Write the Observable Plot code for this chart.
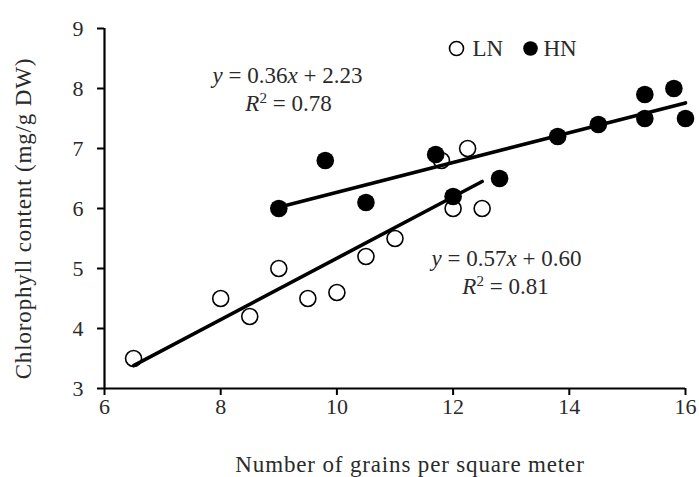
<!DOCTYPE html>
<html>
<head>
<meta charset="utf-8">
<script src="https://cdn.jsdelivr.net/npm/d3@7"></script>
<script src="https://cdn.jsdelivr.net/npm/@observablehq/plot@0.6"></script>
<style>
  html, body { margin: 0; padding: 0; background: #fff; }
  svg text { white-space: pre; }
</style>
</head>
<body>
<div id="chart"></div>
<script>
// LN (open circles)
const lnX = [6.5, 8, 8.5, 9, 9.5, 10, 10.5, 11, 11.8, 12, 12.25, 12.5];
const lnY = [3.5, 4.5, 4.2, 5.0, 4.5, 4.6, 5.2, 5.5, 6.8, 6.0, 7.0, 6.0];
// HN (filled circles)
const hnX = [9, 9.8, 10.5, 11.7, 12, 12.8, 13.8, 14.5, 15.3, 15.3, 15.8, 16];
const hnY = [6.0, 6.8, 6.1, 6.9, 6.2, 6.5, 7.2, 7.4, 7.9, 7.5, 8.0, 7.5];
// fitted lines as drawn (end points)
const lnFitX = [6.5, 12.5];
const lnFitY = [3.38, 6.45];
const hnFitX = [9, 16];
const hnFitY = [6.02, 7.76];
// ticks
const xTicks = [6, 8, 10, 12, 14, 16];
const yTicks = [3, 4, 5, 6, 7, 8, 9];
// texts
const xTitle = "Number of grains per square meter";
const yTitle = "Chlorophyll content (mg/g DW)";
const legendLabels = ["LN", "HN"];
const eqHN = "y = 0.36x + 2.23";
const r2HN = "R2 = 0.78";
const eqLN = "y = 0.57x + 0.60";
const r2LN = "R2 = 0.81";

const ln = lnX.map((x, i) => ({x, y: lnY[i]}));
const hn = hnX.map((x, i) => ({x, y: hnY[i]}));
const lnFit = lnFitX.map((x, i) => ({x, y: lnFitY[i]}));
const hnFit = hnFitX.map((x, i) => ({x, y: hnFitY[i]}));

const textColor = "#2a2a2a";
const serif = "'Liberation Serif', 'Times New Roman', serif";

const plot = Plot.plot({
  width: 699,
  height: 477,
  marginLeft: 104,
  marginRight: 14,
  marginTop: 28,
  marginBottom: 89,
  style: {fontFamily: serif, fontSize: "22px", background: "#fff", color: textColor, overflow: "visible"},
  x: {domain: [6, 16]},
  y: {domain: [3, 9]},
  marks: [
    Plot.axisX({ticks: xTicks, tickFormat: d => String(d), tickSize: 7, tickPadding: 3, strokeWidth: 2, stroke: "#000", fill: textColor, fontSize: 22, label: null}),
    Plot.axisY({ticks: yTicks, tickFormat: d => String(d), tickSize: 7, tickPadding: 14, strokeWidth: 2, stroke: "#000", fill: textColor, fontSize: 22, label: null}),
    Plot.ruleY([3], {stroke: "#000", strokeWidth: 2.2}),
    Plot.ruleX([6], {stroke: "#000", strokeWidth: 2.2}),
    Plot.dot(ln, {x: "x", y: "y", r: 8, fill: "#fff", stroke: "#000", strokeWidth: 1.6}),
    Plot.line(lnFit, {x: "x", y: "y", stroke: "#000", strokeWidth: 3.6}),
    Plot.line(hnFit, {x: "x", y: "y", stroke: "#000", strokeWidth: 3.6}),
    Plot.dot(hn, {x: "x", y: "y", r: 8.8, fill: "#000"}),
    // legend
    Plot.dot([legendLabels[0]], {frameAnchor: "top-left", dx: 352, dy: 20, r: 7, fill: "#fff", stroke: "#000", strokeWidth: 1.6}),
    Plot.text([legendLabels[0]], {frameAnchor: "top-left", dx: 368, dy: 27, text: d => d, textAnchor: "start", lineAnchor: "bottom", fontSize: 23, fill: textColor}),
    Plot.dot([legendLabels[1]], {frameAnchor: "top-left", dx: 426, dy: 20, r: 7.3, fill: "#000"}),
    Plot.text([legendLabels[1]], {frameAnchor: "top-left", dx: 439, dy: 27, text: d => d, textAnchor: "start", lineAnchor: "bottom", fontSize: 23, fill: textColor}),
    // equations
    Plot.text([eqHN], {frameAnchor: "top-left", dx: 183, dy: 54, text: d => d, textAnchor: "middle", lineAnchor: "bottom", fontSize: 23, fill: textColor}),
    Plot.text([r2HN], {frameAnchor: "top-left", dx: 184, dy: 82, text: d => d, textAnchor: "middle", lineAnchor: "bottom", fontSize: 23, fill: textColor}),
    Plot.text([eqLN], {frameAnchor: "top-left", dx: 402, dy: 237, text: d => d, textAnchor: "middle", lineAnchor: "bottom", fontSize: 23, fill: textColor}),
    Plot.text([r2LN], {frameAnchor: "top-left", dx: 401, dy: 265, text: d => d, textAnchor: "middle", lineAnchor: "bottom", fontSize: 23, fill: textColor}),
    // axis titles
    Plot.text([xTitle], {frameAnchor: "bottom", dx: 15, dy: 83, text: d => d, textAnchor: "middle", lineAnchor: "bottom", fontSize: 23, fill: textColor}),
    Plot.text([yTitle], {frameAnchor: "left", dx: -74, dy: 10, rotate: -90, text: d => d, textAnchor: "middle", lineAnchor: "bottom", fontSize: 23, fill: textColor})
  ]
});

// rich text: italics & superscripts
const rich = new Map([
  [eqHN, [["y", "i"], [" = 0.36"], ["x", "i"], [" + 2.23"]]],
  [eqLN, [["y", "i"], [" = 0.57"], ["x", "i"], [" + 0.60"]]],
  [r2HN, [["R", "i"], ["2", "sup"], [" = 0.78"]]],
  [r2LN, [["R", "i"], ["2", "sup"], [" = 0.81"]]]
]);
d3.select(plot).selectAll("text").each(function() {
  const content = this.textContent;
  if (content === xTitle || content === yTitle) {
    d3.select(this).attr("letter-spacing", "0.85px");
    return;
  }
  const segs = rich.get(content);
  if (!segs) return;
  const t = d3.select(this);
  t.text(null);
  let shifted = false;
  for (const [s, kind] of segs) {
    const ts = t.append("tspan").text(s);
    if (kind === "i") ts.attr("font-style", "italic");
    if (kind === "sup") {
      ts.attr("font-size", "15px").attr("dy", "-8");
      shifted = true;
    } else if (shifted) {
      ts.attr("dy", "8");
      shifted = false;
    }
  }
});

document.getElementById("chart").appendChild(plot);
</script>
</body>
</html>
